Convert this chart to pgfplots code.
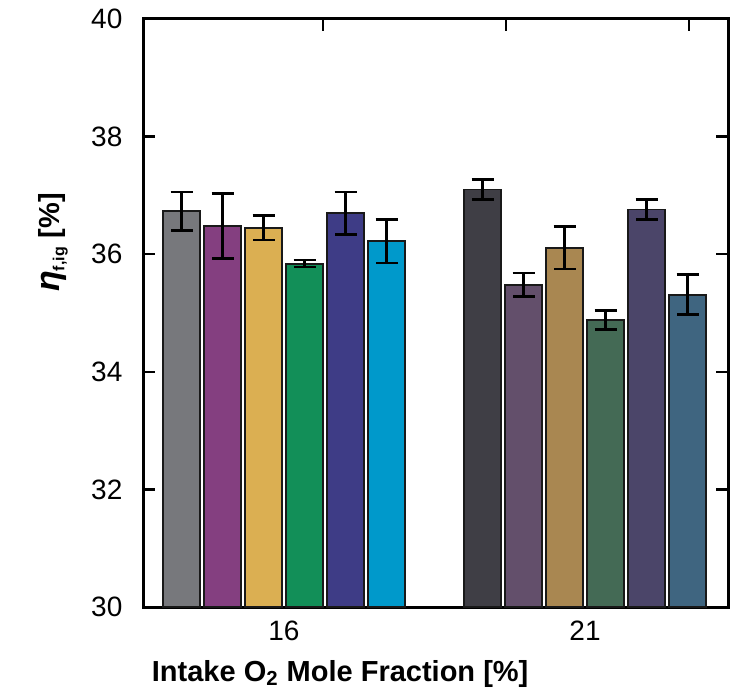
\documentclass[border=0pt]{standalone}
\usepackage{pgfplots}
\pgfplotsset{compat=1.18}
\usepackage{fontspec}
\setmainfont{Liberation Sans}
\definecolor{ca}{HTML}{77787C}
\definecolor{cb}{HTML}{843F80}
\definecolor{cc}{HTML}{DBAF52}
\definecolor{cd}{HTML}{128F58}
\definecolor{ce}{HTML}{3E3C86}
\definecolor{cf}{HTML}{0099CB}
\definecolor{da}{HTML}{3F3E45}
\definecolor{db}{HTML}{634F6B}
\definecolor{dc}{HTML}{A98751}
\definecolor{dd}{HTML}{446A55}
\definecolor{de}{HTML}{4B4569}
\definecolor{df}{HTML}{3F6580}
\pgfplotsset{
  mybar/.style={ybar, bar width=37, bar shift=0pt, fill=#1, draw=black!90, line width=0.95pt,
    error bars/.cd, y dir=both, y explicit,
    error bar style={line width=1.3pt, black},
    error mark options={rotate=90, mark size=5.5pt, line width=1.3pt, black}}
}
\begin{document}
\begin{tikzpicture}
\begin{axis}[
  scale only axis, width=292.5pt, height=294pt,
  xmin=0, xmax=585, ymin=30, ymax=40,
  ytick={30,32,...,40},
  xtick={180,363,546}, xticklabels={},
  extra x ticks={141,442}, extra x tick labels={16,21},
  extra x tick style={major tick length=0pt},
  tick align=inside, xtick pos=both, ytick pos=both,
  major tick length=6pt,
  tick style={line width=1.2pt, black},
  axis line style={line width=1.5pt},
  /pgf/number format/assume math mode=true,
  tick label style={font=\fontsize{14}{16}\selectfont},
  yticklabel style={xshift=-6.8pt},
  xticklabel style={yshift=-3.3pt},
  xlabel={Intake O\textsubscript{2} Mole Fraction [\%]},
  ylabel={{\fontsize{17}{18}\selectfont\itshape η}\textsubscript{\fontsize{8}{9}\selectfont f,ig} [\%]},
  label style={font=\fontsize{14.5}{16}\selectfont\bfseries},
  xlabel style={at={(axis description cs:0.337,-0.127)}, anchor=base},
  ylabel style={at={(axis description cs:-0.1419,0.62)}, anchor=base, rotate=0},
]
\coordinate (ll) at (rel axis cs:0,0);
\coordinate (ur) at (rel axis cs:1,1);
\addplot[mybar=ca] coordinates {(38.5,36.73) +- (0,0.33)};
\addplot[mybar=cb] coordinates {(79.5,36.48) +- (0,0.55)};
\addplot[mybar=cc] coordinates {(120.5,36.45) +- (0,0.21)};
\addplot[mybar=cd] coordinates {(161.5,35.84) +- (0,0.06)};
\addplot[mybar=ce] coordinates {(202.5,36.70) +- (0,0.36)};
\addplot[mybar=cf] coordinates {(243.5,36.22) +- (0,0.37)};
\addplot[mybar=da] coordinates {(339.5,37.10) +- (0,0.17)};
\addplot[mybar=db] coordinates {(380.5,35.48) +- (0,0.20)};
\addplot[mybar=dc] coordinates {(421.5,36.11) +- (0,0.36)};
\addplot[mybar=dd] coordinates {(462.5,34.88) +- (0,0.16)};
\addplot[mybar=de] coordinates {(503.5,36.76) +- (0,0.17)};
\addplot[mybar=df] coordinates {(544.5,35.31) +- (0,0.34)};
\end{axis}
\pgfresetboundingbox
\path[use as bounding box] ([xshift=-71.5pt,yshift=-44.25pt]ll) rectangle ([xshift=2pt,yshift=9.5pt]ur);
\end{tikzpicture}
\end{document}
